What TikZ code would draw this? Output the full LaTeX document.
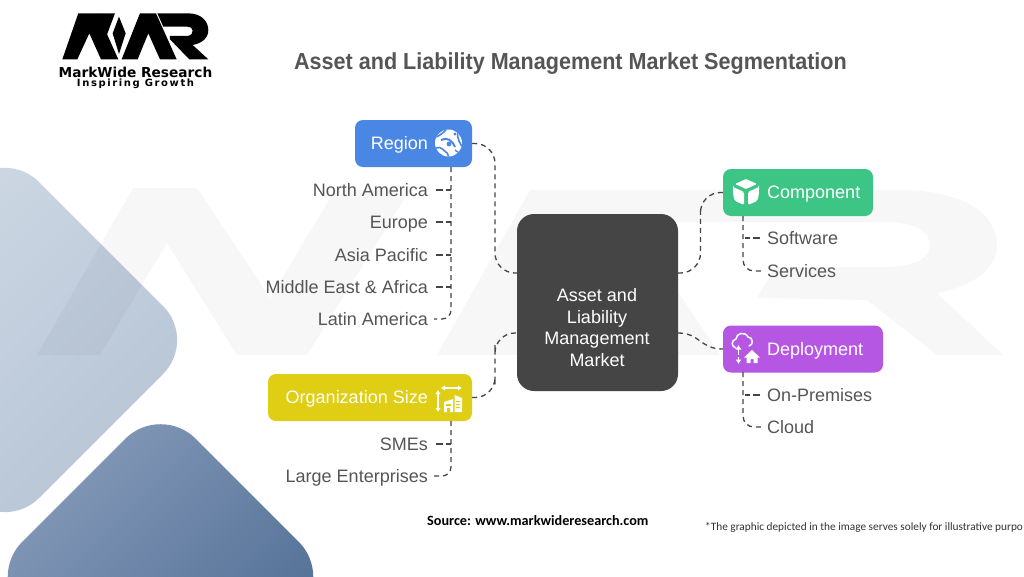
\documentclass[tikz,border=0pt]{standalone}
\usepackage{fontspec}
\setmainfont{Liberation Sans}
\newfontfamily\carlito{Carlito}
\newfontfamily\logofont{DejaVu Sans}
\newfontfamily\tagfont[LetterSpace=16]{DejaVu Sans}
\usetikzlibrary{calc,arrows.meta}
\definecolor{regionblue}{HTML}{4A86E4}
\definecolor{orgyellow}{HTML}{E0CE14}
\definecolor{compgreen}{HTML}{3CC585}
\definecolor{deppurple}{HTML}{B557E3}
\definecolor{centergray}{HTML}{454545}
\definecolor{labelgray}{HTML}{555555}
\definecolor{paleA}{HTML}{D0DAE5}
\definecolor{paleB}{HTML}{B6C4D5}
\definecolor{deepA}{HTML}{869BBA}
\definecolor{deepB}{HTML}{4C6A91}
\tikzset{
  catbox/.style={rounded corners=8pt,minimum height=47pt,inner sep=0pt},
  catlabel/.style={text=white,inner sep=0pt,text height=12pt,text depth=0pt,font=\fontsize{18}{22}\selectfont},
  sublabel/.style={text=labelgray,inner sep=0pt,text height=12pt,text depth=0pt,font=\fontsize{18}{22}\selectfont},
  conn/.style={draw=centergray,line width=1.3pt,dash pattern=on 5pt off 4pt},
  tick/.style={draw=centergray,line width=1.3pt,dash pattern=on 7pt off 3pt on 5pt},
  icon/.style={fill=white,draw=none},
  wm/.style={fill=black,fill opacity=.03,draw=none},
  logo/.style={fill=black,draw=none}
}
\begin{document}
\begin{tikzpicture}[x=1pt,y=-1pt]
\useasboundingbox (0,0) rectangle (1024,576);
\clip (0,0) rectangle (1024,576);
\fill[white] (0,0) rectangle (1024,576);
% background diamonds
\shade[rounded corners=48pt,top color=paleA,bottom color=paleB,shading angle=45]
  (5,148) -- (197,340) -- (5,532) -- (-187,340) -- cycle;
\shade[rounded corners=50pt,top color=deepA,bottom color=deepB,shading angle=45]
  (160.5,403.5) -- (334,577) -- (160.5,750) -- (-13,577) -- cycle;
% watermark
\fill[wm] (37,355) -- (100,355) -- (167,243) -- (237,355) -- (307,355) -- (410,190) -- (335,190) -- (270,298) -- (197,188) -- (133,188) -- cycle;
\fill[wm] (437,355) -- (517,355) -- (567,262) -- (625,355) -- (720,355) -- (610,190) -- (530,190) -- cycle;
\fill[wm] (610,190) -- (900,190) .. controls (960,190) and (997,212) .. (997,245) .. controls (997,270) and (972,286) .. (937,293) -- (1003,355) -- (937,355) -- (867,300) -- (757,298) -- (775,267) -- (885,267) .. controls (915,267) and (930,258) .. (930,245) .. controls (930,232) and (915,222) .. (885,222) -- (631,222) -- cycle;
% logo
\begin{scope}[x=.3333pt,y=-.3333pt]
\fill[logo] (187,178) -- (232,178) -- (268,100) -- (303,178) -- (355,178) -- (293,40) -- (235,40) -- cycle;
\fill[logo] (293,40) -- (345,40) -- (314,122) -- (285,70) -- cycle;
\fill[logo] (357,50) -- (377,100) -- (357,162) -- (338,100) -- cycle;
\fill[logo] (365,178) -- (413,178) -- (445,100) -- (480,178) -- (530,178) -- (468,40) -- (420,40) -- cycle;
\fill[logo] (472,40) -- (565,40) .. controls (605,40) and (625,65) .. (625,90) .. controls (625,115) and (605,130) .. (578,135) -- (625,178) -- (568,178) -- (510,118) -- (510,108) -- (560,108) .. controls (575,108) and (578,98) .. (578,92) .. controls (578,85) and (572,80) .. (560,80) -- (490,80) -- cycle;
\end{scope}
\node[inner sep=0pt,font=\logofont\bfseries\fontsize{13.7}{15}\selectfont] (brand) at (135.5,72) {MarkWide Research};
\node[inner sep=0pt,font=\tagfont\bfseries\fontsize{10}{11}\selectfont] (tagline) at (135.5,84) {Inspiring Growth};
% title
\node[inner sep=0pt,text=labelgray,xscale=.93,font=\bfseries\fontsize{23.2}{26}\selectfont] (title) at (570.5,64) {Asset and Liability Management Market Segmentation};
% center
\node[fill=centergray,rounded corners=17pt,minimum width=161pt,minimum height=177pt,inner sep=0pt] (center) at (597.5,302.5) {};
\node[inner sep=0pt,text=white,align=center,font=\fontsize{18}{21.7}\selectfont] (centertxt) at (597,327.5) {Asset and\\Liability\\Management\\Market};
% category boxes
\node[catbox,fill=regionblue,minimum width=117pt] (region) at (413.5,143.5) {};
\node[catbox,fill=orgyellow,minimum width=204pt] (org) at (370,397.5) {};
\node[catbox,fill=compgreen,minimum width=150pt] (comp) at (798,192.5) {};
\node[catbox,fill=deppurple,minimum width=160pt] (dep) at (803,349) {};
\node[catlabel,anchor=east] (regiontxt) at (428,143.5) {Region};
\node[catlabel,anchor=east] (orgtxt) at (428,397.5) {Organization Size};
\node[catlabel,anchor=west] (comptxt) at (767,192.5) {Component};
\node[catlabel,anchor=west] (deptxt) at (767,349) {Deployment};
% sub labels
\node[sublabel,anchor=east] (na) at (428,190) {North America};
\node[sublabel,anchor=east] (eu) at (428,222) {Europe};
\node[sublabel,anchor=east] (ap) at (428,255) {Asia Pacific};
\node[sublabel,anchor=east] (me) at (428,287) {Middle East \& Africa};
\node[sublabel,anchor=east] (la) at (428,319) {Latin America};
\node[sublabel,anchor=east] (sme) at (428,444) {SMEs};
\node[sublabel,anchor=east] (le) at (428,476) {Large Enterprises};
\node[sublabel,anchor=west] (sw) at (767,238) {Software};
\node[sublabel,anchor=west] (sv) at (767,271) {Services};
\node[sublabel,anchor=west] (op) at (767,395) {On-Premises};
\node[sublabel,anchor=west] (cl) at (767,427) {Cloud};
% footer
\node[inner sep=0pt,anchor=west,font=\carlito\bfseries\fontsize{14.2}{16}\selectfont] (source) at (427,521) {Source: www.markwideresearch.com};
\node[inner sep=0pt,anchor=west,text=black!80,font=\carlito\fontsize{11.3}{14}\selectfont] (note) at (705,527) {*The graphic depicted in the image serves solely for illustrative purpo};
% connection points
\coordinate (c1) at (517,273);
\coordinate (c2) at (517,333);
\coordinate (c3) at (678,273);
\coordinate (c4) at (678,333);
\coordinate (rt) at (451,167);
\coordinate (ot) at (451,421);
\coordinate (ct) at (743,216);
\coordinate (dt) at (743,372);
% main connectors
\draw[conn,rounded corners=20pt] (region.east) -| (495,208) |- (c1);
\draw[conn,rounded corners=20pt] (org.east) -| (495,365) |- (c2);
\draw[conn,rounded corners=20pt] (c3) -| (700.5,230) |- (comp.west);
\draw[conn] (c4) .. controls (700,333) and (700,349) .. (dep.west);
% subtree connectors
\draw[conn,rounded corners=9pt] (rt) |- ($(la.east)+(6,0)$);
\draw[conn,rounded corners=9pt] (ot) |- ($(le.east)+(6,0)$);
\draw[conn,rounded corners=11pt] (ct) |- ($(sv.west)+(-6,0)$);
\draw[conn,rounded corners=11pt] (dt) |- ($(cl.west)+(-6,0)$);
\foreach \n in {na,eu,ap,me}{\draw[tick] ($(\n.east)+(8,0)$) -- (\n.east -| rt);}
\draw[tick] ($(sme.east)+(8,0)$) -- (sme.east -| ot);
\draw[tick] ($(sw.west)+(-7,0)$) -- (sw.west -| ct);
\draw[tick] ($(op.west)+(-7,0)$) -- (op.west -| dt);
% globe icon
\fill[icon] (448.5,143) circle (13.5pt);
\begin{scope}
\clip (448.5,143) circle (13.5pt);
\draw[regionblue,line width=1.6pt] (436,137) .. controls (443,134) and (446,130) .. (447,128);
\draw[regionblue,line width=1.6pt] (436,148) .. controls (441,146) and (443,150) .. (447,153) .. controls (449,156) and (449,158) .. (447,160);
\draw[regionblue,line width=2pt] (441,140) .. controls (447,137) and (452,140) .. (455,147);
\fill[regionblue] (449,144) circle (2.4pt) (455,134) circle (1.6pt);
\draw[regionblue,line width=1.6pt] (458,131) .. controls (456,138) and (461,145) .. (463,148);
\draw[regionblue,line width=1.4pt] (455,150) .. controls (458,153) and (460,153) .. (463,152);
\end{scope}
% cube icon
\fill[icon,rounded corners=1pt] (746,179) -- (757,184) -- (746,189) -- (735,184) -- cycle;
\fill[icon,rounded corners=1.5pt] (733,187) -- (744,192) -- (744,205) -- (735,201) .. controls (733,196) and (733,191) .. (733,187) -- cycle;
\fill[icon,rounded corners=1.5pt] (759,187) -- (748,192) -- (748,205) -- (757,201) .. controls (759,196) and (759,191) .. (759,187) -- cycle;
% deployment icon
\draw[white,line width=1.5pt,line cap=round] (736,348) .. controls (731,347) and (731,340) .. (736,339) .. controls (736,333) and (745,331) .. (748,337) .. controls (753,337) and (754,345) .. (749,346);
\draw[white,line width=1.6pt,-{Latex[length=4.5pt,width=6pt]}] (738.5,354.5) -- (738.5,345);
\draw[white,line width=1.6pt,-{Latex[length=4.5pt,width=6pt]}] (738.5,357) -- (738.5,364);
\fill[icon] (752,350) -- (760,357.5) -- (757.5,357.5) -- (757.5,363) -- (753.5,363) -- (753.5,359) -- (750.5,359) -- (750.5,363) -- (746.5,363) -- (746.5,357.5) -- (744,357.5) -- cycle;
% organization size icon
\draw[white,line width=1.2pt,{Latex[length=4pt,width=5.5pt]}-{Latex[length=4pt,width=5.5pt]}] (441,388) -- (462,388);
\draw[white,line width=1.2pt,{Latex[length=4pt,width=5.5pt]}-{Latex[length=4pt,width=5.5pt]}] (438,390) -- (438,412);
\fill[icon] (444,402) -- (453,399) -- (453,412) -- (444,412) -- cycle;
\fill[icon] (454.5,395) -- (462,398) -- (462,412) -- (454.5,412) -- cycle;
\fill[orgyellow] (446,404) rectangle (451,406) (447,408) rectangle (450,412);
\fill[orgyellow] (456,401) rectangle (460,402) (456,404) rectangle (460,405) (456,407) rectangle (460,408);
\end{tikzpicture}
\end{document}
